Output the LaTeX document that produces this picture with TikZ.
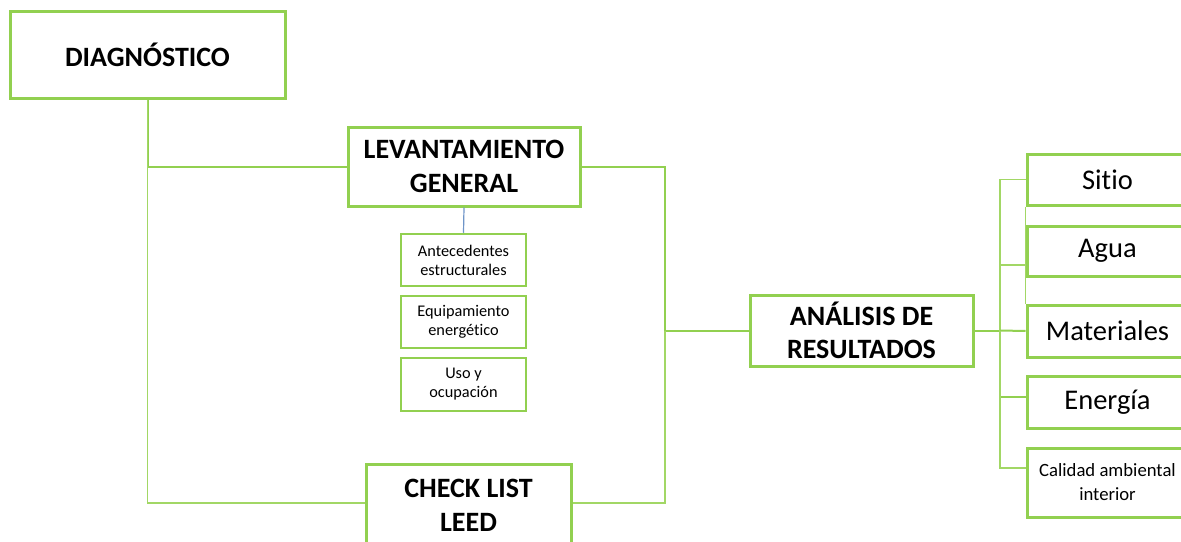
\documentclass[tikz,border=0pt]{standalone}
\usepackage{fontspec}
\setmainfont[Ligatures=NoCommon]{Carlito}
\definecolor{lg}{HTML}{92D050}
\definecolor{lgl}{HTML}{A2D765}
\definecolor{bl}{HTML}{6F95C8}
\tikzset{
  bigbox/.style={draw=lg, line width=3pt, fill=white, align=center, inner sep=0pt,
    font=\bfseries\fontsize{28}{34}\selectfont},
  smallbox/.style={draw=lg, line width=2.5pt, fill=white, align=center, inner sep=0pt,
    minimum width=125pt, font=\fontsize{16.3}{19}\selectfont},
  sidebox/.style={draw=lg, line width=3pt, fill=white, align=center, inner sep=0pt,
    minimum width=161pt, font=\fontsize{28.5}{34}\selectfont},
  conn/.style={draw=lg, line width=2pt},
  connl/.style={draw=lgl, line width=1.8pt},
}
\begin{document}
\begin{tikzpicture}[x=1pt,y=-1pt]
\useasboundingbox (0,0) rectangle (1181,541);
\clip (0,0) rectangle (1181,541);
\fill[white] (0,0) rectangle (1181,541);

% nodes
\node[bigbox, minimum width=275pt, minimum height=87pt] (diag) at (147.5,55) {DIAGNÓSTICO};
\node[bigbox, minimum width=232pt, minimum height=79pt] (lev) at (464,166.5) {LEVANTAMIENTO\\GENERAL};
\node[smallbox, minimum height=52pt] (ant) at (463.5,260) {Antecedentes\\estructurales};
\node[smallbox, minimum height=52pt] (equ) at (463.5,322) {Equipamiento\\energético};
\node[smallbox, minimum height=53pt] (uso) at (463.5,384.5) {Uso y\\ocupación};
\node[bigbox, minimum width=205pt, minimum height=82pt] (chk) at (468.5,505) {CHECK LIST\\LEED};
\node[bigbox, minimum width=223pt, minimum height=71pt, font=\bfseries\fontsize{28}{33}\selectfont] (anal) at (861.5,330.5) {ANÁLISIS DE\\RESULTADOS};

\node[sidebox, minimum height=51pt] (sit) at (1107.5,179.5) {Sitio};
\node[sidebox, minimum height=50pt] (agu) at (1107.5,251) {Agua};
\node[sidebox, minimum height=52pt] (mat) at (1107.5,331) {Materiales};
\node[sidebox, minimum height=52pt] (ene) at (1107.5,402) {Energía};
\node[sidebox, minimum height=69pt, font=\fontsize{18.7}{24}\selectfont] (cal) at (1107.5,482.5) {Calidad ambiental\\interior};

% junctions
\coordinate (j1) at (665,330.5);
\coordinate (j2) at (1000,330.5);

% connectors
\draw[conn] (diag.south) |- (lev.west);
\draw[connl] (diag.south) |- ([yshift=2pt]chk.west);
\draw[conn] (lev.east) -| (j1) -- (anal.west);
\draw[connl] ([yshift=2pt]chk.east) -| (j1);
\draw[bl, line width=1.2pt] (lev.south) -- (ant.north);

\draw[conn] (anal.east) -- (j2);
\draw[connl] (j2) |- (sit.west);
\draw[connl] (j2) |- ([yshift=-14pt]agu.west);
\draw[conn] (j2) -- (mat.west);
\draw[conn] (j2) |- ([yshift=5pt]ene.west);
\draw[connl] (j2) |- ([yshift=14.5pt]cal.west);
\draw[connl, line width=1.2pt] (sit.south west) -- (mat.north west);

% redraw boxes on top of thin line
\node[sidebox, minimum height=51pt] at (sit) {Sitio};
\node[sidebox, minimum height=50pt] at (agu) {Agua};
\node[sidebox, minimum height=52pt] at (mat) {Materiales};
\end{tikzpicture}
\end{document}
